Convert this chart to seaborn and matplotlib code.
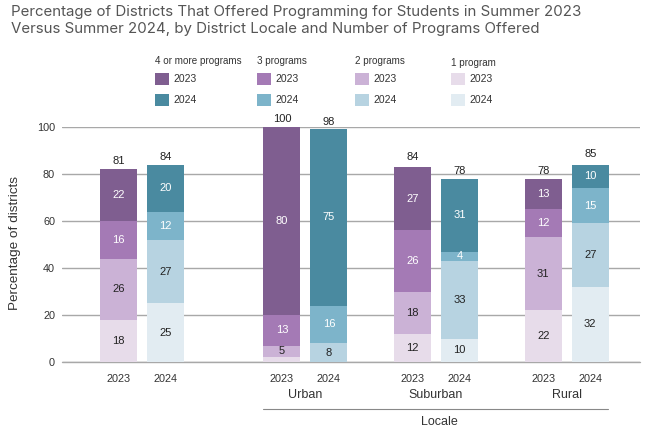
import numpy as np
import pandas as pd
import matplotlib
matplotlib.use("Agg")
import matplotlib.pyplot as plt
from matplotlib.patches import Rectangle
import seaborn as sns

# data
years = ["2023", "2024", "2023", "2024", "2023", "2024", "2023", "2024"]
locales = ["Urban", "Suburban", "Rural"]
programs = ["4 or more programs", "3 programs", "2 programs", "1 program"]

# segment values per bar (overall, urban, suburban, rural; 2023 then 2024)
one_prog = [18, 25, 2, 0, 12, 10, 22, 32]
two_prog = [26, 27, 5, 8, 18, 33, 31, 27]
three_prog = [16, 12, 13, 16, 26, 4, 12, 15]
four_plus = [22, 20, 80, 75, 27, 31, 13, 10]
totals = [81, 84, 100, 98, 84, 78, 78, 85]

# layout: bar positions on a numeric x axis
x_pos = [0, 1, 3.48, 4.48, 6.26, 7.26, 9.04, 10.04]

colors = {
    "4 or more programs": {"2023": "#7f5e90", "2024": "#4a8aa0"},
    "3 programs": {"2023": "#a47ab5", "2024": "#7db4ca"},
    "2 programs": {"2023": "#cbb2d6", "2024": "#b7d3e1"},
    "1 program": {"2023": "#e7dcea", "2024": "#e2ecf2"},
}
text_colors = {
    "4 or more programs": "white",
    "3 programs": "white",
    "2 programs": "#222222",
    "1 program": "#222222",
}

sns.set_style("white")
plt.rcParams["font.family"] = ["Liberation Sans", "DejaVu Sans"]

df = pd.DataFrame({
    "pos": x_pos,
    "year": years,
    "1 program": one_prog,
    "2 programs": two_prog,
    "3 programs": three_prog,
    "4 or more programs": four_plus,
})
stack_order = ["1 program", "2 programs", "3 programs", "4 or more programs"]
cum = df[stack_order].cumsum(axis=1)
bottoms = cum - df[stack_order].values

fig = plt.figure(figsize=(6.7, 4.34), dpi=100)
ax = fig.add_axes([62 / 670, 72 / 434, 578 / 670, 235 / 434])

# draw cumulative bars, tallest first so lower segments sit on top
for prog in reversed(stack_order):
    tmp = pd.DataFrame({"pos": df["pos"], "year": df["year"], "val": cum[prog]})
    sns.barplot(
        data=tmp, x="pos", y="val", hue="year", palette=colors[prog],
        native_scale=True, width=0.79, dodge=False, legend=False,
        errorbar=None, saturation=1, linewidth=0, ax=ax, zorder=3,
    )

# segment labels
for prog in stack_order:
    for i in range(len(df)):
        v = df[prog].iloc[i]
        if v >= 3:
            ax.text(df["pos"].iloc[i], bottoms[prog].iloc[i] + v / 2, str(v),
                    ha="center", va="center", fontsize=8,
                    color=text_colors[prog], zorder=5)

# totals above bars
for i in range(len(df)):
    ax.text(df["pos"].iloc[i], max(totals[i], cum["4 or more programs"].iloc[i]) + 1.2,
            str(totals[i]), ha="center", va="bottom", fontsize=8,
            color="#222222", clip_on=False)

ax.set_ylim(0, 100)
ax.set_xlim(-1.2, 11.1)
ax.set_yticks([0, 20, 40, 60, 80, 100])
ax.set_xticks(x_pos)
ax.set_xticklabels(years)
ax.tick_params(axis="both", length=0, labelsize=7.8, colors="#333333")
ax.tick_params(axis="x", pad=9)
ax.tick_params(axis="y", pad=5)
ax.yaxis.grid(True, color="#a8a8a8", linewidth=1, zorder=0)
ax.axhline(0, color="#a8a8a8", linewidth=1, zorder=1, clip_on=False)
ax.set_axisbelow(True)
for s in ax.spines.values():
    s.set_visible(False)
ax.set_xlabel("")
ax.set_ylabel("")

# locale labels under the groups
for k, name in enumerate(locales):
    xc = (x_pos[2 + 2 * k] + x_pos[3 + 2 * k]) / 2
    ax.text(xc, -14, name, ha="center", va="center", fontsize=9,
            color="#333333", clip_on=False)
ax.plot([3.07, 10.41], [-20, -20], color="#888888", linewidth=0.8,
        clip_on=False)
ax.text(6.84, -25.5, "Locale", ha="center", va="center", fontsize=9,
        color="#333333", clip_on=False)

fig.text(15 / 670, 1 - 243 / 434, "Percentage of districts", rotation=90,
         ha="center", va="center", fontsize=9.7, color="#333333")

fig.text(11 / 670, 1 - 5 / 434,
         "Percentage of Districts That Offered Programming for Students in Summer 2023\n"
         "Versus Summer 2024, by District Locale and Number of Programs Offered",
         ha="left", va="top", fontsize=10.8, color="#555555", linespacing=1.3,
         family=["Inter", "DejaVu Sans"])

# legend columns
W, H = 670, 434
col_x = [155, 257, 355, 451]
head_y = [61, 61, 61, 63]
for k, prog in enumerate(programs):
    hx = col_x[k]
    fig.text(hx / W, 1 - head_y[k] / H, prog, ha="left", va="center",
             fontsize=7.1, color="#333333")
    for j, (yr, ry) in enumerate([("2023", 73), ("2024", 94)]):
        fig.add_artist(Rectangle((hx / W, 1 - (ry + 12) / H), 14 / W, 12 / H,
                                 transform=fig.transFigure,
                                 facecolor=colors[prog][yr], edgecolor="none"))
        fig.text((hx + 18) / W, 1 - (ry + 6) / H, yr, ha="left", va="center",
                 fontsize=7.5, color="#333333")

fig.savefig("out.png", dpi=100)
